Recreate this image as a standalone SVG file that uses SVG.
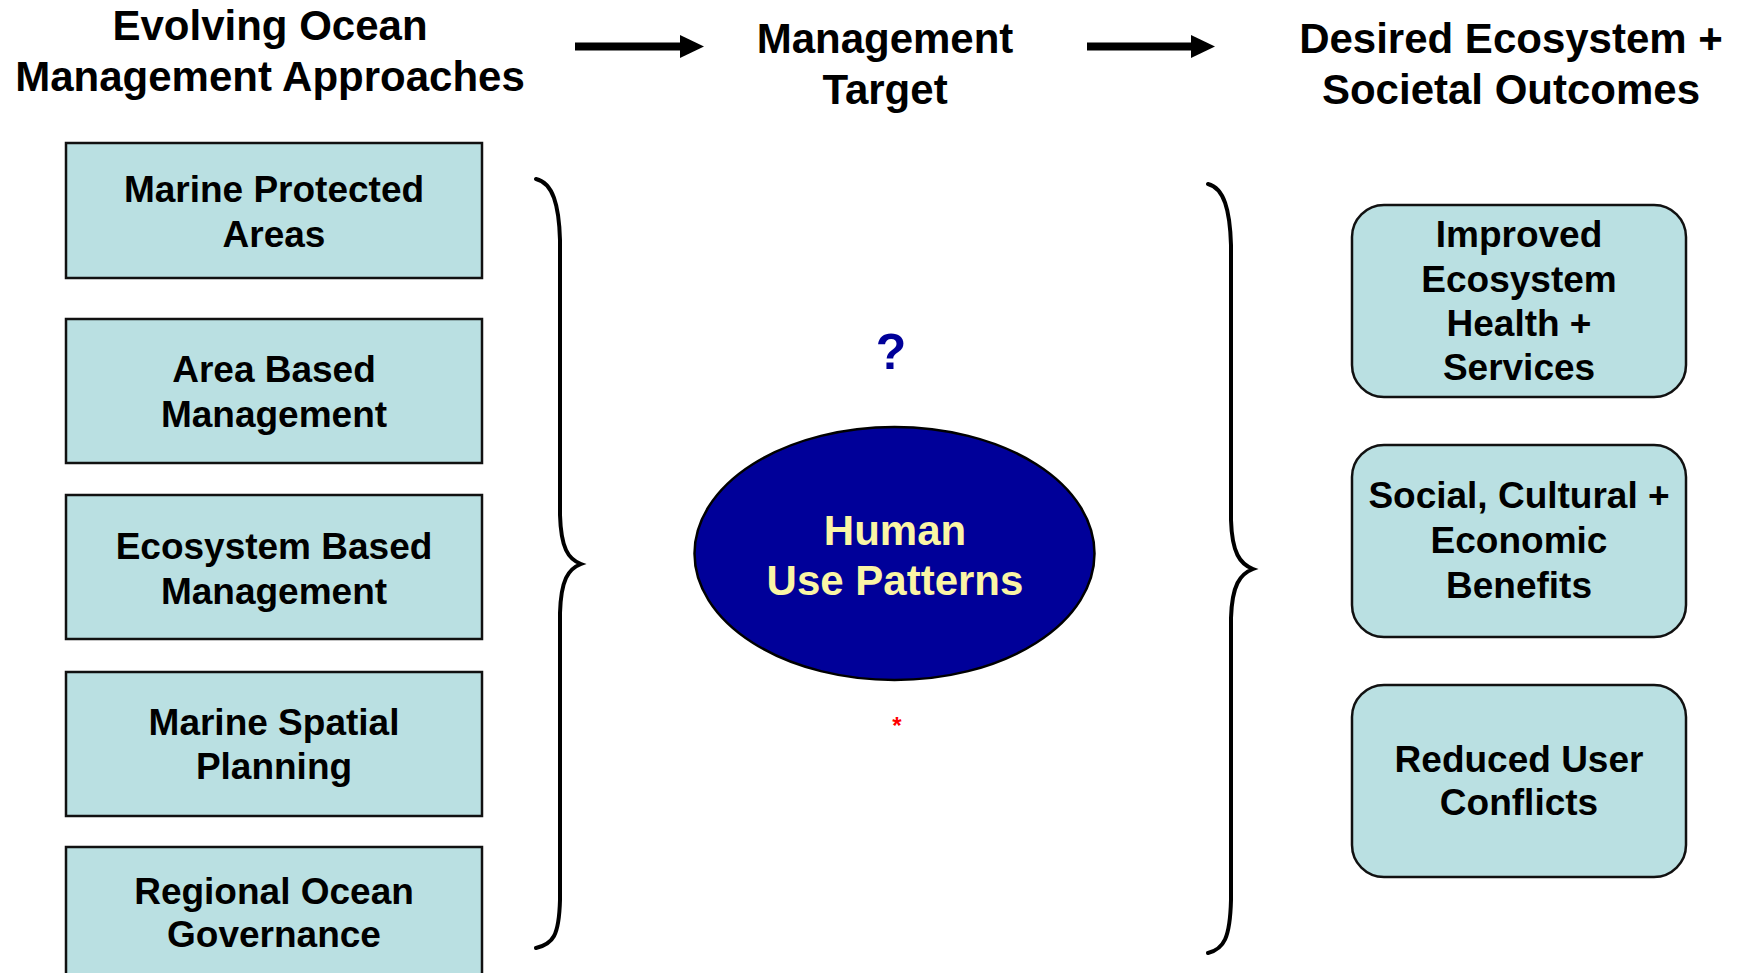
<svg xmlns="http://www.w3.org/2000/svg" width="1743" height="973" viewBox="0 0 1743 973">
<defs>
<style>
text{font-family:"Liberation Sans",Arial,sans-serif;font-weight:bold;text-anchor:middle}
.hd{font-size:42px;fill:#000}
.bx{fill:#BAE0E2;stroke:#111;stroke-width:2.5}
.bt{font-size:37px;fill:#000}
.brace{fill:none;stroke:#000;stroke-width:4;stroke-linecap:round}
.arr{stroke:#000;stroke-width:8}
</style>
<marker id="ah" viewBox="0 0 24 23" refX="0" refY="11.5" markerWidth="24" markerHeight="23" markerUnits="userSpaceOnUse" orient="auto">
<path d="M0,0 L24,11.5 L0,23 Z" fill="#000"/>
</marker>
</defs>
<rect width="1743" height="973" fill="#fff"/>
<g id="headers">
<text class="hd" x="270" y="40">Evolving Ocean</text>
<text class="hd" x="270" y="91">Management Approaches</text>
<text class="hd" x="885" y="53">Management</text>
<text class="hd" x="885" y="104">Target</text>
<text class="hd" x="1511" y="53">Desired Ecosystem +</text>
<text class="hd" x="1511" y="104">Societal Outcomes</text>
</g>
<g id="connectors">
<line class="arr" x1="575" y1="46.5" x2="680" y2="46.5" marker-end="url(#ah)"/>
<line class="arr" x1="1087" y1="46.5" x2="1191" y2="46.5" marker-end="url(#ah)"/>
<path class="brace" d="M536,179 C553,183 559,205 560,240 L560,515 C561,548 568,559 581,564 C568,569 561,580 560,613 L560,900 C559,936 553,944 536,948"/>
<path class="brace" d="M1208,184 C1224,188 1230,210 1231,245 L1231,520 C1232,553 1240,564 1253,569 C1240,574 1232,585 1231,618 L1231,900 C1230,938 1224,949 1208,953"/>
</g>
<g id="mpa">
<rect class="bx" x="66" y="143" width="416" height="135"/>
<text class="bt" x="274" y="202">Marine Protected</text>
<text class="bt" x="274" y="247">Areas</text>
</g>
<g id="abm">
<rect class="bx" x="66" y="319" width="416" height="144"/>
<text class="bt" x="274" y="382">Area Based</text>
<text class="bt" x="274" y="427">Management</text>
</g>
<g id="ebm">
<rect class="bx" x="66" y="495" width="416" height="144"/>
<text class="bt" x="274" y="559">Ecosystem Based</text>
<text class="bt" x="274" y="604">Management</text>
</g>
<g id="msp">
<rect class="bx" x="66" y="672" width="416" height="144"/>
<text class="bt" x="274" y="735">Marine Spatial</text>
<text class="bt" x="274" y="779">Planning</text>
</g>
<g id="rog">
<rect class="bx" x="66" y="847" width="416" height="144"/>
<text class="bt" x="274" y="904">Regional Ocean</text>
<text class="bt" x="274" y="947">Governance</text>
</g>
<g id="target">
<text x="891" y="369" font-size="50" fill="#000099">?</text>
<ellipse cx="894.5" cy="553.5" rx="200" ry="126.5" fill="#000099" stroke="#000" stroke-width="2.5"/>
<text x="895" y="545" font-size="42" fill="#FAF5A5">Human</text>
<text x="895" y="595" font-size="42" fill="#FAF5A5">Use Patterns</text>
<text x="897" y="734" font-size="24" fill="#FF0000">*</text>
</g>
<g id="ecosystem">
<rect class="bx" x="1352" y="205" width="334" height="192" rx="32"/>
<text class="bt" x="1519" y="247">Improved</text>
<text class="bt" x="1519" y="292">Ecosystem</text>
<text class="bt" x="1519" y="336">Health +</text>
<text class="bt" x="1519" y="380">Services</text>
</g>
<g id="social">
<rect class="bx" x="1352" y="445" width="334" height="192" rx="32"/>
<text class="bt" x="1519" y="508">Social, Cultural +</text>
<text class="bt" x="1519" y="553">Economic</text>
<text class="bt" x="1519" y="598">Benefits</text>
</g>
<g id="conflicts">
<rect class="bx" x="1352" y="685" width="334" height="192" rx="32"/>
<text class="bt" x="1519" y="772">Reduced User</text>
<text class="bt" x="1519" y="815">Conflicts</text>
</g>
</svg>
